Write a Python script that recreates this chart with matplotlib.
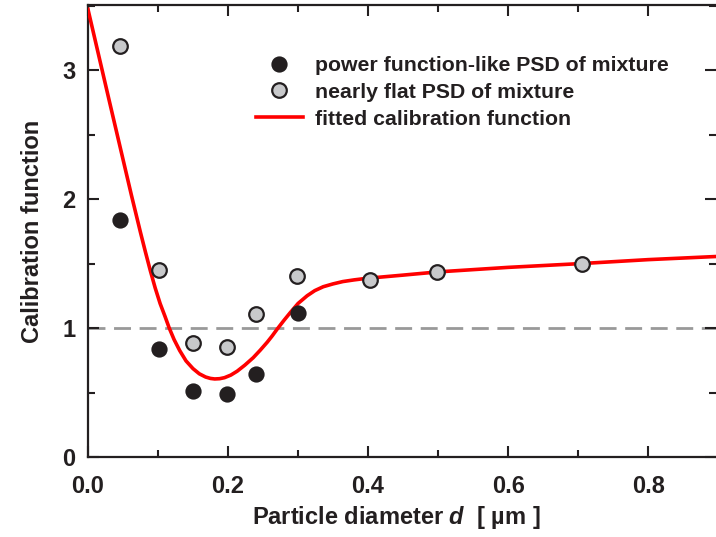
import numpy as np
import matplotlib
matplotlib.use("Agg")
import matplotlib.pyplot as plt
from matplotlib.ticker import MultipleLocator

plt.rcParams['font.family'] = ['Liberation Sans', 'DejaVu Sans']
plt.rcParams['font.weight'] = 'bold'
plt.rcParams['axes.labelweight'] = 'bold'
plt.rcParams['mathtext.fontset'] = 'custom'
plt.rcParams['mathtext.bfit'] = 'Liberation Sans:italic:bold'

# measured points, power function-like PSD (black)
d_power = [0.046, 0.101, 0.150, 0.199, 0.240, 0.300]
c_power = [1.84, 0.84, 0.51, 0.49, 0.645, 1.12]

# measured points, nearly flat PSD (gray)
d_flat = [0.046, 0.101, 0.150, 0.199, 0.240, 0.299, 0.403, 0.498, 0.706]
c_flat = [3.19, 1.45, 0.885, 0.85, 1.11, 1.40, 1.37, 1.435, 1.50]

# fitted calibration function
d_fit = [0.0, 0.03, 0.062, 0.075, 0.082, 0.089, 0.096, 0.103, 0.110, 0.116,
         0.123, 0.131, 0.140, 0.150, 0.159, 0.168, 0.175, 0.181, 0.188,
         0.195, 0.204, 0.213, 0.224, 0.236, 0.246, 0.256, 0.263, 0.270,
         0.280, 0.289, 0.300, 0.313, 0.324, 0.336, 0.350, 0.364, 0.380,
         0.398, 0.45, 0.50, 0.60, 0.706, 0.80, 0.90]
c_fit = [3.47, 2.77, 2.03, 1.74, 1.59, 1.445, 1.31, 1.19, 1.09, 1.00,
         0.91, 0.825, 0.745, 0.685, 0.645, 0.62, 0.609, 0.605, 0.607,
         0.615, 0.635, 0.665, 0.712, 0.77, 0.828, 0.89, 0.938, 0.99,
         1.06, 1.12, 1.19, 1.25, 1.29, 1.32, 1.342, 1.36, 1.373,
         1.385, 1.41, 1.435, 1.47, 1.50, 1.53, 1.555]

ink = '#231f20'

fig = plt.figure(figsize=(7.16, 5.37), dpi=100)
ax = fig.add_axes([88/716, 80/537, 628/716, 452/537])

ax.axhline(1.0, color='#999999', lw=2.0, dashes=(6.1, 3.1), zorder=1)
ax.plot(d_fit, c_fit, color='#ff0000', lw=2.6, zorder=3,
        label='fitted calibration function', solid_joinstyle='round')
ax.plot(d_power, c_power, 'o', ms=10.5, mfc=ink, mec=ink, mew=1.2, zorder=4,
        label='power function-like PSD of mixture')
ax.plot(d_flat, c_flat, 'o', ms=10.5, mfc='#c8c9cb', mec=ink, mew=1.6, zorder=4,
        label='nearly flat PSD of mixture')

ax.set_xlim(0, 0.897)
ax.set_ylim(0, 3.504)
ax.xaxis.set_major_locator(MultipleLocator(0.2))
ax.xaxis.set_minor_locator(MultipleLocator(0.1))
ax.yaxis.set_major_locator(MultipleLocator(1))
ax.yaxis.set_minor_locator(MultipleLocator(0.5))
ax.xaxis.set_major_formatter(lambda v, p: f'{v:.1f}')

ax.tick_params(which='both', direction='in', top=True, right=True,
               width=1.5, color=ink, labelsize=17, labelcolor=ink)
ax.tick_params(axis='x', which='major', pad=13)
ax.tick_params(axis='y', which='major', pad=9)
ax.tick_params(which='major', length=8)
ax.tick_params(which='minor', length=5)
for s in ['left', 'bottom', 'top']:
    ax.spines[s].set_linewidth(1.6)
    ax.spines[s].set_color(ink)
ax.spines['right'].set_visible(False)

ax.set_xlabel(r'Particle diameter $\mathbfit{d}$  [ µm ]', fontsize=17, color=ink)
ax.xaxis.set_label_coords((396 - 88) / 628, -0.105)
ax.set_ylabel('Calibration function', fontsize=17, color=ink, labelpad=13)

h, l = ax.get_legend_handles_labels()
order = [1, 2, 0]
ax.legend([h[i] for i in order], [l[i] for i in order], loc='upper left',
          bbox_to_anchor=(168/628, 1 - 51/452), frameon=False, fontsize=15.3,
          handlelength=2.2, handletextpad=0.57, labelspacing=0.37,
          borderaxespad=0, borderpad=0, labelcolor=ink)

fig.savefig('out.png', dpi=100)
